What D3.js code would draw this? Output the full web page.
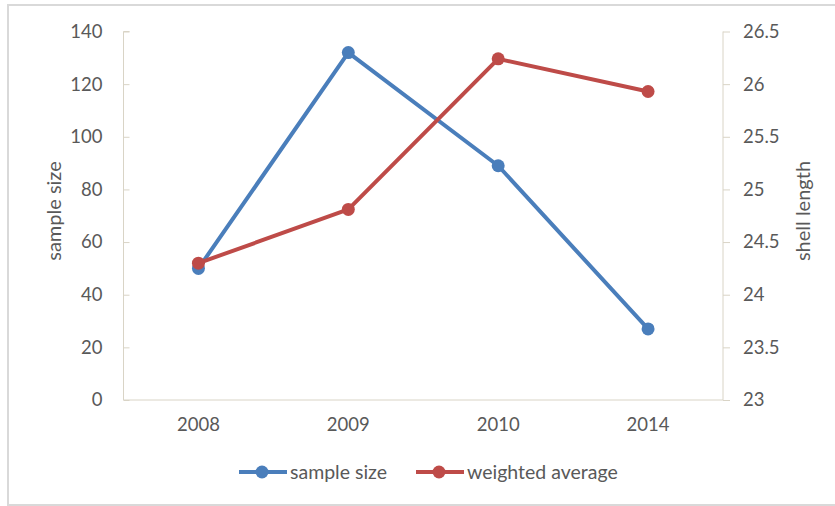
<!DOCTYPE html>
<html>
<head>
<meta charset="utf-8">
<script src="https://cdn.jsdelivr.net/npm/d3@7"></script>
<style>
  html, body { margin: 0; padding: 0; background: #fff; }
  svg { display: block; font-family: Lato, "Liberation Sans", Arial, sans-serif; }
</style>
</head>
<body>
<svg id="chart" width="835" height="506"></svg>
<script>
// Survey years and the two measured series
const years = ["2008", "2009", "2010", "2014"];
const sampleSize = [50, 132, 89, 27];
const weightedAverage = [24.3, 24.81, 26.24, 25.93];
const leftTicks = [0, 20, 40, 60, 80, 100, 120, 140];
const rightTicks = [23, 23.5, 24, 24.5, 25, 25.5, 26, 26.5];
const seriesNames = ["sample size", "weighted average"];

const blue = "#4A7EBB";
const red = "#BE4B48";
const axisColor = "#D9D4C6";
const textColor = "#595959";
const fontSize = 18.5;

const svg = d3.select("#chart");

// outer frame
svg.append("rect")
  .attr("x", 8).attr("y", 5).attr("width", 840).attr("height", 500)
  .attr("fill", "#fff").attr("stroke", "#D9D9D9").attr("stroke-width", 2);

const plot = { left: 123.5, right: 723, top: 31.5, bottom: 400 };

const x = d3.scaleBand().domain(years).range([plot.left, plot.right]);
const yL = d3.scaleLinear().domain([0, 140]).range([plot.bottom, plot.top]);
const yR = d3.scaleLinear().domain([23, 26.5]).range([plot.bottom, plot.top]);
const cx = d => x(d) + x.bandwidth() / 2;

// left axis: ticks point into the plot
const leftAxis = svg.append("g").attr("transform", `translate(${plot.left},0)`)
  .call(d3.axisRight(yL).tickValues(leftTicks).tickSize(6).tickFormat(d3.format("d")));
leftAxis.attr("font-family", null);
leftAxis.select(".domain").attr("stroke", axisColor).attr("d", `M6,${plot.top}H0V${plot.bottom}`);
leftAxis.selectAll(".tick line").attr("stroke", axisColor);
leftAxis.selectAll(".tick text")
  .attr("x", -21).attr("text-anchor", "end")
  .attr("fill", textColor).attr("font-size", fontSize);

// right axis: ticks point outward
const rightAxis = svg.append("g").attr("transform", `translate(${plot.right},0)`)
  .call(d3.axisRight(yR).tickValues(rightTicks).tickSize(7).tickFormat(d3.format("")));
rightAxis.attr("font-family", null);
rightAxis.select(".domain").attr("stroke", axisColor).attr("d", `M0,${plot.top}V${plot.bottom}`);
rightAxis.selectAll(".tick line").attr("stroke", axisColor);
rightAxis.selectAll(".tick text")
  .attr("x", 20).attr("fill", textColor).attr("font-size", fontSize);

// category axis
const bottomAxis = svg.append("g").attr("transform", `translate(0,${plot.bottom})`)
  .call(d3.axisBottom(x).tickSize(0).tickPadding(18));
bottomAxis.attr("font-family", null);
bottomAxis.select(".domain").attr("stroke", axisColor).attr("d", `M${plot.left},0H${plot.right}`);
bottomAxis.selectAll(".tick text").attr("fill", textColor).attr("font-size", fontSize);

// axis titles
const titleY = 211;
svg.append("text")
  .attr("transform", `translate(61,${titleY}) rotate(-90)`)
  .attr("text-anchor", "middle").attr("fill", textColor).attr("font-size", 20)
  .text("sample size");
svg.append("text")
  .attr("transform", `translate(810,${titleY}) rotate(-90)`)
  .attr("text-anchor", "middle").attr("fill", textColor).attr("font-size", 20)
  .text("shell length");

// series lines and markers
function drawSeries(values, yScale, color) {
  const pts = years.map((yr, i) => [cx(yr), yScale(values[i])]);
  svg.append("path")
    .attr("d", d3.line()(pts))
    .attr("fill", "none").attr("stroke", color).attr("stroke-width", 4)
    .attr("stroke-linejoin", "round").attr("stroke-linecap", "round");
  svg.append("g").selectAll("circle").data(pts).join("circle")
    .attr("cx", d => d[0]).attr("cy", d => d[1]).attr("r", 6.5)
    .attr("fill", color);
}
drawSeries(sampleSize, yL, blue);
drawSeries(weightedAverage, yR, red);

// legend
const legendY = 472;
const legend = [
  { name: seriesNames[0], color: blue, x0: 239 },
  { name: seriesNames[1], color: red, x0: 416 }
];
legend.forEach(l => {
  svg.append("line")
    .attr("x1", l.x0).attr("x2", l.x0 + 48).attr("y1", legendY).attr("y2", legendY)
    .attr("stroke", l.color).attr("stroke-width", 4);
  svg.append("circle").attr("cx", l.x0 + 23).attr("cy", legendY).attr("r", 6.5).attr("fill", l.color);
  svg.append("text")
    .attr("x", l.x0 + 51).attr("y", legendY).attr("dy", "0.35em")
    .attr("fill", textColor).attr("font-size", 19.5)
    .text(l.name);
});
</script>
</body>
</html>
